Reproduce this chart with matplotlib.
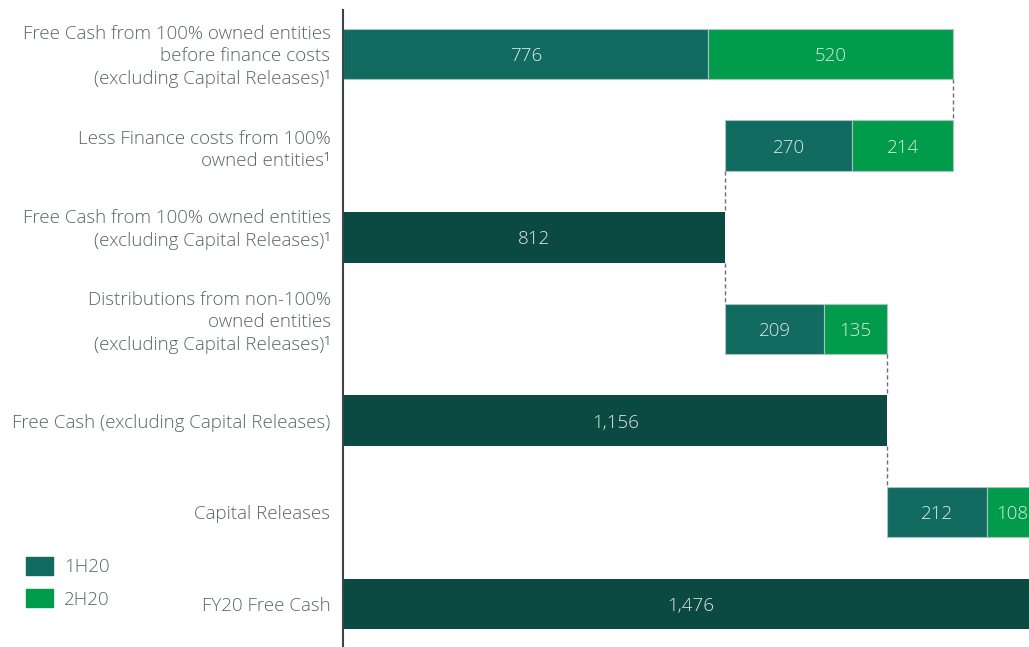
import matplotlib.pyplot as plt
import matplotlib.transforms as mtransforms
from matplotlib.patches import Patch

plt.rcParams["font.family"] = ["Open Sans", "DejaVu Sans"]

# Data
labels = [
    "Free Cash from 100% owned entities\nbefore finance costs\n(excluding Capital Releases)\u00b9",
    "Less Finance costs from 100%\nowned entities\u00b9",
    "Free Cash from 100% owned entities\n(excluding Capital Releases)\u00b9",
    "Distributions from non-100%\nowned entities\n(excluding Capital Releases)\u00b9",
    "Free Cash (excluding Capital Releases)",
    "Capital Releases",
    "FY20 Free Cash",
]
h1 = [776, 270, None, 209, None, 212, None]
h2 = [520, 214, None, 135, None, 108, None]
totals = [None, None, 812, None, 1156, None, 1476]
starts = [0, 812, 0, 812, 0, 1156, 0]
value_text = ["776", "520", "270", "214", "812", "209", "135", "1,156", "212", "108", "1,476"]

c1 = "#116b61"
c2 = "#009c4b"
ctot = "#0b4a42"
txt = "#5d636b"
vcol = "#dfe9e6"

fig = plt.figure(figsize=(10.29, 6.47), dpi=100)
ax = fig.add_axes([343 / 1029, 0, 686 / 1029, 637 / 647])

H = 0.55
ys = list(range(len(labels)))
k = 0
ends = []
for i, y in enumerate(ys):
    if totals[i] is not None:
        ax.barh(y, totals[i], left=starts[i], height=H, color=ctot)
        ax.text(starts[i] + totals[i] / 2, y, value_text[k], ha="center", va="center_baseline",
                color=vcol, fontsize=13.5, fontweight="light")
        k += 1
        ends.append(starts[i] + totals[i])
    else:
        ax.barh(y, h1[i], left=starts[i], height=H, color=c1, edgecolor="#a9c3bf", linewidth=0.8)
        ax.barh(y, h2[i], left=starts[i] + h1[i], height=H, color=c2, edgecolor="#a9c3bf", linewidth=0.8)
        ax.text(starts[i] + h1[i] / 2, y, value_text[k], ha="center", va="center_baseline",
                color=vcol, fontsize=13.5, fontweight="light")
        ax.text(starts[i] + h1[i] + h2[i] / 2, y, value_text[k + 1], ha="center", va="center_baseline",
                color=vcol, fontsize=13.5, fontweight="light")
        k += 2
        ends.append(starts[i] + h1[i] + h2[i])

# connectors
conn = [(0, ends[0]), (1, starts[1]), (2, ends[2]), (3, ends[3]), (4, ends[4]), (5, ends[5])]
for i, xv in conn:
    ax.plot([xv, xv], [i + H / 2, i + 1 - H / 2], color="#6b7077", linestyle=(0, (3, 2)), linewidth=1)

ax.set_xlim(0, 1457)
ax.set_ylim(6.47, -0.48)
ax.set_yticks(ys)
ax.set_yticklabels(labels, fontsize=13.5, color=txt, fontweight="light", linespacing=1.33)
ax.tick_params(axis="y", length=0, pad=9)
ax.set_xticks([])
for s in ["top", "right", "bottom"]:
    ax.spines[s].set_visible(False)
ax.spines["left"].set_color("#3d434a")
ax.spines["left"].set_linewidth(1.5)

# small vertical nudges of some labels (in points)
nudges = [1.5, 0, 8.5, 8, 0, 0, 0]
for tick, dy in zip(ax.yaxis.get_major_ticks(), nudges):
    off = mtransforms.ScaledTranslation(0, dy / 72, fig.dpi_scale_trans)
    tick.label1.set_transform(tick.label1.get_transform() + off)

handles = [Patch(color=c1, label="1H20"), Patch(color=c2, label="2H20")]
leg = fig.legend(handles=handles, loc="upper left", bbox_to_anchor=(26 / 1029, 1 - 557 / 647),
                 frameon=False, fontsize=13.5, handlelength=1.44, handleheight=1.07,
                 handletextpad=0.59, labelspacing=0.7, borderpad=0, borderaxespad=0)
for t in leg.get_texts():
    t.set_color(txt)
    t.set_fontweight("light")

fig.savefig("out.png", dpi=100)
